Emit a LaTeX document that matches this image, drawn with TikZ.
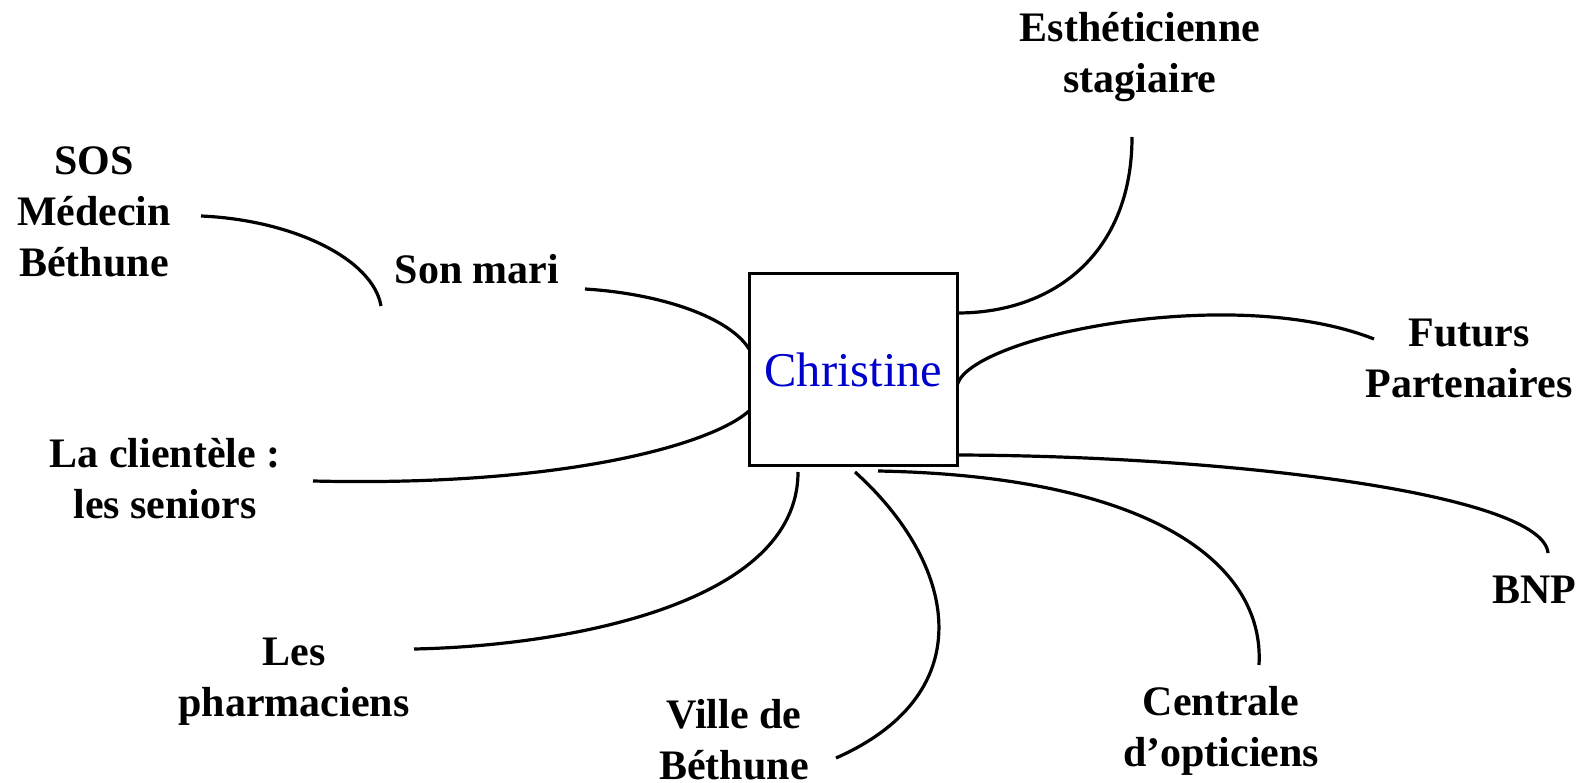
\documentclass[tikz,border=0pt]{standalone}
\usepackage{fontspec}
\setmainfont{Liberation Serif}
\begin{document}
\begin{tikzpicture}[x=1pt,y=-1pt,
  lbl/.style={font=\fontsize{42}{51}\selectfont\bfseries, align=center, inner sep=0pt},
  link/.style={line width=3.2pt},
  centre/.style={draw, line width=3.3pt, minimum width=208pt, minimum height=192pt, inner sep=0pt,
    font=\fontsize{48.5}{58}\selectfont, text=blue!80!black}]
\useasboundingbox (0,0) rectangle (1581,783);
\node[centre] (christine) at (853.5,369.5) {Christine};
% labels
\node[lbl] (esth) at (1140,57) {Esthéticienne\\stagiaire};
\node[lbl] (sos) at (94,212) {SOS\\Médecin\\Béthune};
\node[lbl] (mari) at (477,269) {Son mari};
\node[lbl] (client) at (165,479) {La clientèle :\\les seniors};
\node[lbl] (futurs) at (1469,358) {Futurs\\Partenaires};
\node[lbl] (bnp) at (1534,590) {BNP};
\node[lbl] (pharma) at (294,682) {Les\\pharmaciens};
\node[lbl] (ville) at (734,740) {Ville de\\Béthune};
\node[lbl] (centrale) at (1221,731) {Centrale\\d’opticiens};
% connector ends
\coordinate (sosA) at (201,216);  \coordinate (sosB) at (381,306);
\coordinate (mariA) at (585,289); \coordinate (mariB) at (749,349);
\coordinate (cliA) at (313,481);  \coordinate (cliB) at (749,411);
\coordinate (estA) at (1132,137); \coordinate (estB) at (957.5,313);
\coordinate (futA) at (957.5,384);\coordinate (futB) at (1374,339);
\coordinate (bnpA) at (957.5,455);\coordinate (bnpB) at (1548,553);
\coordinate (cenA) at (878,471);  \coordinate (cenB) at (1259,665);
\coordinate (vilA) at (855,472);  \coordinate (vilB) at (836,758);
\coordinate (phaA) at (798,472);  \coordinate (phaB) at (414,649);
% connectors
\draw[link] (sosA) .. controls (293,220) and (373,259) .. (sosB);
\draw[link] (mariA) .. controls (665,294) and (731,319) .. (mariB);
\draw[link] (cliA) .. controls (562,487) and (711,445) .. (cliB);
\draw[link] (estA) .. controls (1132,254) and (1053,313) .. (estB);
\draw[link] (futA) .. controls (973,336) and (1232,283) .. (futB);
\draw[link] (bnpA) .. controls (1238,456) and (1543,495) .. (bnpB);
\draw[link] (cenA) .. controls (1146,476) and (1265,561) .. (cenB);
\draw[link] (vilA) .. controls (955,562) and (985,692) .. (vilB);
\draw[link] (phaA) .. controls (798,605) and (564,646) .. (phaB);
\end{tikzpicture}
\end{document}
